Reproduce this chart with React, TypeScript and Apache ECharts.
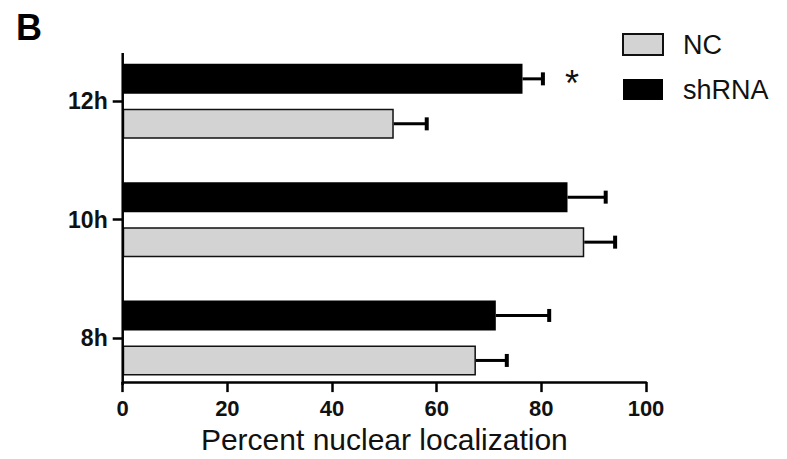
import React, { useEffect, useRef } from "react";
import * as echarts from "echarts";

const categories = ["8h", "10h", "12h"];
const seriesNames = ["NC", "shRNA"];
const ncValues = [67.5, 88.2, 51.8];
const ncErrorHigh = [73.4, 94.1, 58.1];
const shrnaValues = [71.3, 85.0, 76.4];
const shrnaErrorHigh = [81.5, 92.3, 80.3];
const shrnaSignificance = ["", "", "*"];
const xMin = 0;
const xMax = 100;
const xInterval = 20;

const FONT = "'Liberation Sans', Arial, sans-serif";
const BAR_W = 30;
const BAR_GAP_PX = 15;
const HALF = (BAR_W + BAR_GAP_PX) / 2;

function errorSeries(name: string, values: number[], highs: number[], offset: number, marks?: string[]) {
  return {
    type: "custom",
    name: name + "-err",
    z: 5,
    silent: true,
    data: values.map((v, i) => [i, v, highs[i]]),
    renderItem: (params: any, api: any) => {
      const idx = api.value(0);
      const v = api.value(1);
      const h = api.value(2);
      const mark = marks ? marks[idx] : "";
      const p1 = api.coord([v, idx]);
      const p2 = api.coord([h, idx]);
      const y = p1[1] + offset;
      const children: any[] = [
        { type: "line", shape: { x1: p1[0], y1: y, x2: p2[0], y2: y }, style: { stroke: "#000", lineWidth: 3 } },
        { type: "line", shape: { x1: p2[0], y1: y - 6.5, x2: p2[0], y2: y + 6.5 }, style: { stroke: "#000", lineWidth: 4 } },
      ];
      if (mark) {
        children.push({
          type: "text",
          style: { text: mark, x: p2[0] + 29, y: y + 5, align: "center", verticalAlign: "middle", fontSize: 36, fontFamily: FONT, fill: "#111" },
        });
      }
      return { type: "group", children };
    },
  };
}

export default function App() {
  const ref = useRef<HTMLDivElement>(null);
  useEffect(() => {
    const chart = echarts.init(ref.current!, null, { renderer: "svg" });
    chart.setOption({
      animation: false,
      backgroundColor: "#fff",
      grid: { left: 122.7, right: 141, top: 42.2, height: 357 },
      legend: {
        data: seriesNames,
        orient: "vertical",
        left: 622,
        top: 31,
        padding: 0,
        itemWidth: 40,
        itemHeight: 21,
        itemGap: 18,
        icon: "rect",
        textStyle: { fontSize: 27, fontFamily: FONT, color: "#111", padding: [0, 0, 0, 15] },
      },
      xAxis: {
        type: "value",
        min: xMin,
        max: xMax,
        interval: xInterval,
        offset: -15,
        axisLine: { show: true, lineStyle: { color: "#000", width: 2.5 } },
        axisTick: { show: true, length: 10, lineStyle: { color: "#000", width: 2.5 } },
        splitLine: { show: false },
        axisLabel: { fontSize: 22, fontWeight: "bold", fontFamily: FONT, color: "#111", margin: 15 },
        name: "Percent nuclear localization",
        nameLocation: "middle",
        nameGap: 36,
        nameTextStyle: { fontSize: 30, fontFamily: FONT, color: "#111" },
      },
      yAxis: {
        type: "category",
        data: categories,
        axisLine: { show: false },
        axisTick: { show: true, alignWithLabel: true, length: 10, lineStyle: { color: "#000", width: 2.5 } },
        axisLabel: { fontSize: 23, fontWeight: "bold", fontFamily: FONT, color: "#111", margin: 15 },
        splitLine: { show: false },
      },
      graphic: [
        { type: "line", shape: { x1: 122.7, y1: 53, x2: 122.7, y2: 385 }, style: { stroke: "#000", lineWidth: 2.5 }, z: 10 },
        { type: "text", left: 16, top: 9, style: { text: "B", fontSize: 36, fontWeight: "bold", fontFamily: FONT, fill: "#000" } },
      ],
      series: [
        {
          type: "bar",
          name: "shRNA",
          data: shrnaValues,
          barWidth: BAR_W,
          barGap: "50%",
          itemStyle: { color: "#000", borderColor: "#000", borderWidth: 0 },
        },
        {
          type: "bar",
          name: "NC",
          data: ncValues,
          barWidth: BAR_W,
          barGap: "50%",
          itemStyle: { color: "#d3d3d3", borderColor: "#111", borderWidth: 1.5 },
        },
        errorSeries("NC", ncValues, ncErrorHigh, HALF),
        errorSeries("shRNA", shrnaValues, shrnaErrorHigh, -HALF, shrnaSignificance),
      ],
    });
    return () => chart.dispose();
  }, []);
  return <div ref={ref} style={{ position: "fixed", left: 0, top: 0, width: 787, height: 459, background: "#fff" }} />;
}
